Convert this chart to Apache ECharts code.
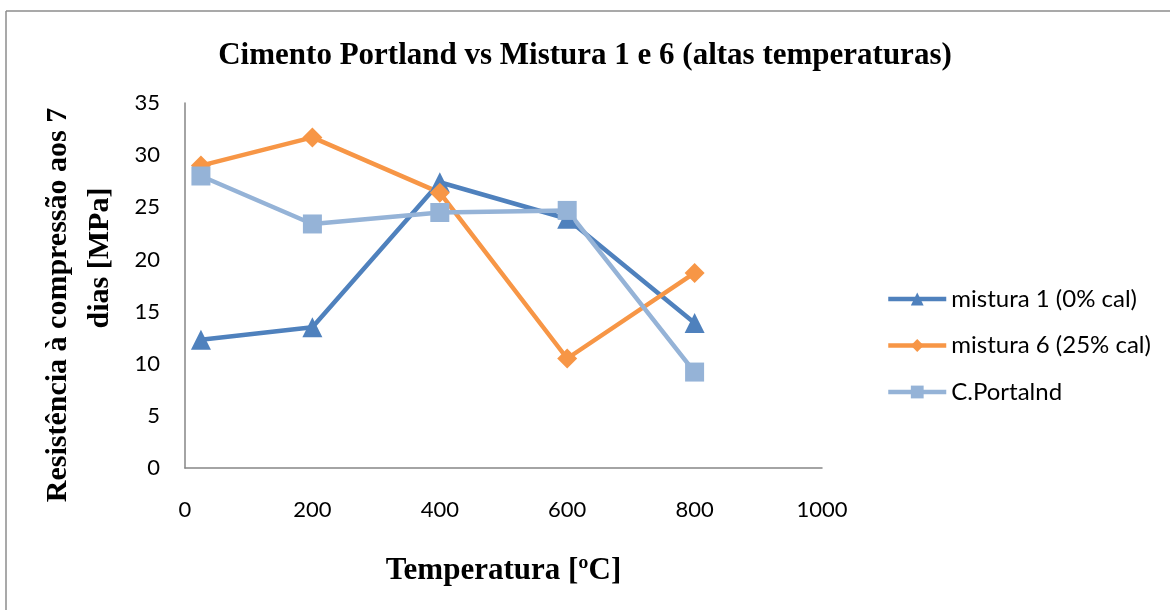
<!DOCTYPE html>
<html>
<head>
<meta charset="utf-8">
<script src="https://cdn.jsdelivr.net/npm/echarts@6/dist/echarts.min.js"></script>
<style>html,body{margin:0;padding:0;background:#fff}#c{width:1170px;height:610px}</style>
</head>
<body>
<div id="c"></div>
<script>
const temperatures = [25, 200, 400, 600, 800];
const mistura1 = [12.3, 13.5, 27.4, 23.9, 13.9];
const mistura6 = [29.0, 31.7, 26.4, 10.5, 18.7];
const cPortland = [28.0, 23.4, 24.5, 24.7, 9.2];
const seriesNames = ['mistura 1 (0% cal)', 'mistura 6 (25% cal)', 'C.Portalnd'];
const titleText = 'Cimento Portland vs Mistura 1 e 6 (altas temperaturas)';
const xName = 'Temperatura [ºC]';
const yNameLine1 = 'Resistência à compressão aos 7';
const yNameLine2 = 'dias [MPa]';

const pair = (xs, ys) => xs.map((x, i) => [x, ys[i]]);
const chart = echarts.init(document.getElementById('c'));
const labelFont = 'Lato, "Open Sans", sans-serif';
const serif = '"Liberation Serif", serif';
chart.setOption({
  animation: false,
  backgroundColor: '#fff',
  title: {
    text: titleText, left: 'center', top: 35,
    textStyle: {fontFamily: serif, fontWeight: 'bold', fontSize: 31, color: '#000'}
  },
  graphic: [
    {type: 'line', shape: {x1: 6, y1: 11, x2: 1170, y2: 11}, style: {stroke: '#8c8c8c', lineWidth: 1.5}},
    {type: 'line', shape: {x1: 6, y1: 11, x2: 6, y2: 610}, style: {stroke: '#8c8c8c', lineWidth: 1.5}},
    {type: 'text', x: 58, y: 305, rotation: Math.PI / 2,
     style: {text: yNameLine1, fontFamily: serif, fontWeight: 'bold', fontSize: 30, fill: '#000', align: 'center', verticalAlign: 'middle'}},
    {type: 'text', x: 100, y: 258, rotation: Math.PI / 2,
     style: {text: yNameLine2, fontFamily: serif, fontWeight: 'bold', fontSize: 30, fill: '#000', align: 'center', verticalAlign: 'middle'}}
  ],
  legend: {
    orient: 'vertical', left: 881, top: 282, itemGap: 22.5,
    itemWidth: 58, itemHeight: 16,
    lineStyle: {width: 4.5},
    textStyle: {fontFamily: labelFont, fontSize: 24, color: '#000'},
    data: seriesNames
  },
  grid: {left: 185, right: 348, top: 103, bottom: 142},
  xAxis: {
    type: 'value', min: 0, max: 1000, interval: 200,
    name: xName, nameLocation: 'middle', nameGap: 87,
    nameTextStyle: {fontFamily: serif, fontWeight: 'bold', fontSize: 31, color: '#000'},
    axisLine: {lineStyle: {color: '#868686', width: 1.5}},
    axisTick: {show: false}, splitLine: {show: false},
    axisLabel: {fontFamily: labelFont, fontSize: 22, color: '#000', margin: 31, formatter: v => String(v)}
  },
  yAxis: {
    type: 'value', min: 0, max: 35, interval: 5,
    axisLine: {show: true, lineStyle: {color: '#868686', width: 1.5}},
    axisTick: {show: false}, splitLine: {show: false},
    axisLabel: {fontFamily: labelFont, fontSize: 22, color: '#000', margin: 25}
  },
  series: [
    {name: seriesNames[0], type: 'line', data: pair(temperatures, mistura1), symbol: 'triangle', symbolSize: 20,
     itemStyle: {color: '#4F81BD'}, lineStyle: {color: '#4F81BD', width: 4.5}},
    {name: seriesNames[1], type: 'line', data: pair(temperatures, mistura6), symbol: 'diamond', symbolSize: 20,
     itemStyle: {color: '#F79646'}, lineStyle: {color: '#F79646', width: 4.5}},
    {name: seriesNames[2], type: 'line', data: pair(temperatures, cPortland), symbol: 'rect', symbolSize: 19,
     itemStyle: {color: '#95B3D7'}, lineStyle: {color: '#95B3D7', width: 4.5}}
  ]
});
</script>
</body>
</html>
